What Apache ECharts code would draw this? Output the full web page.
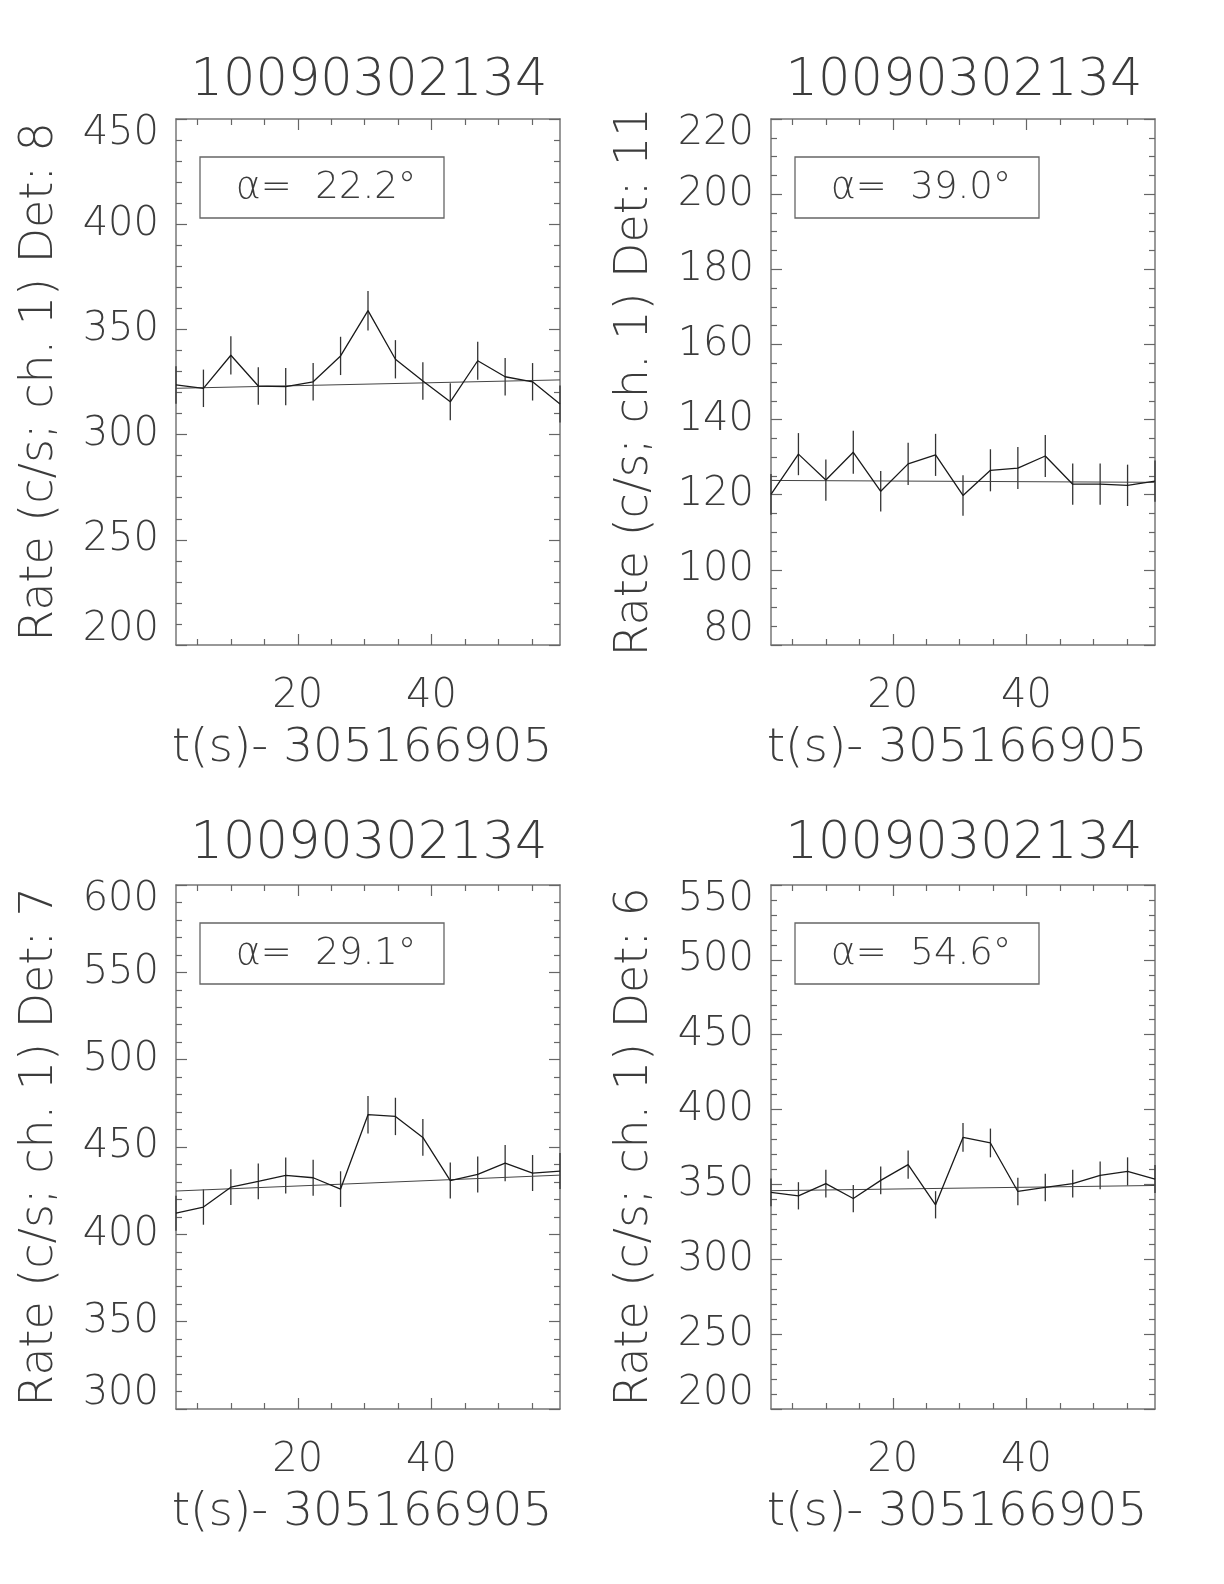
<!DOCTYPE html>
<html>
<head>
<meta charset="utf-8">
<script src="https://cdn.jsdelivr.net/npm/echarts@6/dist/echarts.min.js"></script>
<style>
html,body{margin:0;padding:0;background:#fff;}
#chart{width:1224px;height:1584px;}
</style>
</head>
<body>
<div id="chart"></div>
<script>
// ---- data ----
const obsId = '10090302134';
const timeOffsetLabel = 't(s)- 305166905';
const xTimes = [1.8, 5.9, 10.0, 14.1, 18.2, 22.3, 26.4, 30.5, 34.6, 38.7, 42.8, 46.9, 51.0, 55.1, 59.2];
const xMajorTicks = [20, 40];
const xMinorTicks = [5, 10, 15, 25, 30, 35, 45, 50, 55];

const detectors = ['8', '11', '7', '6'];
const alphaValues = ['22.2', '39.0', '29.1', '54.6'];

const det8Rate = [323.6, 322.0, 337.7, 323.1, 322.8, 325.1, 337.4, 358.9, 335.8, 325.5, 315.6, 335.1, 327.5, 325.1, 314.5];
const det8Err  = [8.9, 8.9, 9.1, 8.9, 8.9, 8.9, 9.1, 9.4, 9.1, 8.9, 8.8, 9.0, 8.9, 8.9, 8.8];
const det8Bkg  = [322.0, 326.0];

const det11Rate = [120.1, 130.8, 123.9, 131.3, 120.9, 128.2, 130.6, 119.8, 126.5, 127.1, 130.3, 122.8, 122.8, 122.5, 123.6];
const det11Err  = [5.4, 5.6, 5.5, 5.7, 5.4, 5.6, 5.6, 5.4, 5.6, 5.6, 5.6, 5.5, 5.5, 5.5, 5.5];
const det11Bkg  = [123.8, 123.3];

const det7Rate = [412.1, 415.6, 427.0, 430.3, 433.7, 432.4, 425.9, 468.5, 467.5, 455.5, 430.8, 434.3, 440.8, 435.1, 436.2];
const det7Err  = [10.0, 10.1, 10.2, 10.2, 10.3, 10.3, 10.2, 10.7, 10.7, 10.5, 10.3, 10.3, 10.4, 10.3, 10.3];
const det7Bkg  = [424.8, 433.9];

const det6Rate = [344.7, 342.4, 350.5, 340.6, 352.7, 363.2, 336.4, 381.4, 377.7, 345.3, 348.0, 350.5, 356.0, 358.7, 353.6];
const det6Err  = [9.2, 9.1, 9.3, 9.1, 9.3, 9.4, 9.1, 9.6, 9.6, 9.2, 9.2, 9.3, 9.3, 9.4, 9.3];
const det6Bkg  = [345.8, 349.3];

const yMins = [200, 80, 300, 200];
const yMaxs = [450, 220, 600, 550];
const yIntervals = [50, 20, 50, 50];
const yMinorSplits = [5, 4, 5, 5];

const rates = [det8Rate, det11Rate, det7Rate, det6Rate];
const errs = [det8Err, det11Err, det7Err, det6Err];
const bkgs = [det8Bkg, det11Bkg, det7Bkg, det6Bkg];

// ---- layout & style ----
const FONT = 'DejaVu Sans';
const FW = 200;
const TXT = '#3c3c3c';
const FRAME = '#777';
const grids = [
  {left: 176, top: 119, width: 384, height: 526},
  {left: 771, top: 119, width: 384, height: 526},
  {left: 176, top: 885, width: 384, height: 524},
  {left: 771, top: 885, width: 384, height: 524}
];
const titleY = [82, 82, 845, 845];

const xMin = xTimes[0], xMax = xTimes[xTimes.length - 1];

const xAxes = [], yAxes = [], series = [], graphics = [];
const lineSt = {color: FRAME, width: 1.5};
const tickSt = {color: '#666', width: 1.2};

grids.forEach((g, i) => {
  const base = {gridIndex: i, type: 'value', min: xMin, max: xMax, splitLine: {show: false}};
  xAxes.push(Object.assign({}, base, {
    position: 'bottom',
    axisLine: {show: true, lineStyle: lineSt},
    axisTick: {show: true, inside: true, length: 11, customValues: xMajorTicks, lineStyle: tickSt},
    axisLabel: {show: true, customValues: xMajorTicks, margin: 32, fontSize: 40, fontFamily: FONT, fontWeight: FW, color: TXT},
    name: timeOffsetLabel, nameLocation: 'middle', nameGap: 80,
    nameTextStyle: {fontSize: 47, fontFamily: FONT, fontWeight: FW, color: TXT, padding: [0, 12, 0, 0]}
  }));
  xAxes.push(Object.assign({}, base, {
    position: 'bottom',
    axisLine: {show: false},
    axisTick: {show: true, inside: true, length: 6, customValues: xMinorTicks, lineStyle: tickSt},
    axisLabel: {show: false}
  }));
  xAxes.push(Object.assign({}, base, {
    position: 'top',
    axisLine: {show: true, lineStyle: lineSt},
    axisTick: {show: true, inside: true, length: 11, customValues: xMajorTicks, lineStyle: tickSt},
    axisLabel: {show: false}
  }));
  xAxes.push(Object.assign({}, base, {
    position: 'top',
    axisLine: {show: false},
    axisTick: {show: true, inside: true, length: 6, customValues: xMinorTicks, lineStyle: tickSt},
    axisLabel: {show: false}
  }));

  const ybase = {gridIndex: i, type: 'value', min: yMins[i], max: yMaxs[i], interval: yIntervals[i],
    splitLine: {show: false}, minorSplitLine: {show: false},
    axisLine: {show: true, lineStyle: lineSt},
    axisTick: {show: true, inside: true, length: 11, lineStyle: tickSt},
    minorTick: {show: true, splitNumber: yMinorSplits[i], length: 6, lineStyle: tickSt}};
  yAxes.push(Object.assign({}, ybase, {
    position: 'left',
    axisLabel: {show: true, margin: 17, fontSize: 40, lineHeight: 30, fontFamily: FONT, fontWeight: FW, color: TXT,
      verticalAlignMaxLabel: 'top', verticalAlignMinLabel: 'bottom'},
    name: 'Rate (c/s; ch. 1) Det: ' + detectors[i], nameLocation: 'middle', nameGap: 113, nameRotate: 90,
    nameTextStyle: {fontSize: 46, fontFamily: FONT, fontWeight: FW, color: TXT}
  }));
  yAxes.push(Object.assign({}, ybase, {position: 'right', axisLabel: {show: false}}));

  const xi = 4 * i, yi = 2 * i;
  series.push({
    type: 'line', xAxisIndex: xi, yAxisIndex: yi, showSymbol: false, animation: false,
    data: xTimes.map((t, k) => [t, rates[i][k]]),
    lineStyle: {color: '#1a1a1a', width: 1.3}, z: 3
  });
  series.push({
    type: 'line', xAxisIndex: xi, yAxisIndex: yi, showSymbol: false, animation: false,
    data: [[xMin, bkgs[i][0]], [xMax, bkgs[i][1]]],
    lineStyle: {color: '#444', width: 1}, z: 2
  });
  series.push({
    type: 'custom', xAxisIndex: xi, yAxisIndex: yi, animation: false, z: 2,
    data: xTimes.map((t, k) => [t, rates[i][k], errs[i][k]]),
    renderItem: function (params, api) {
      const x = api.value(0), y = api.value(1), e = api.value(2);
      const p1 = api.coord([x, y - e]);
      const p2 = api.coord([x, y + e]);
      return {type: 'line', shape: {x1: p1[0], y1: p1[1], x2: p2[0], y2: p2[1]},
        style: {stroke: '#333', lineWidth: 1.3}};
    }
  });

  graphics.push({
    type: 'text', x: g.left + g.width / 2 + 1, y: titleY[i],
    style: {text: obsId, font: FW + ' 51px "' + FONT + '"', fill: TXT, textAlign: 'center', textVerticalAlign: 'middle'}
  });
  const bx = g.left + 24, by = g.top + 38, bw = 244, bh = 61;
  graphics.push({
    type: 'rect', shape: {x: bx, y: by, width: bw, height: bh},
    style: {fill: 'none', stroke: '#666', lineWidth: 1.3}
  });
  graphics.push({
    type: 'text', x: bx + bw / 2 + 4, y: by + bh / 2 + 1,
    style: {
      text: '{a|α}=  ' + alphaValues[i] + '°',
      font: FW + ' 37px "' + FONT + '"', fill: TXT, textAlign: 'center', textVerticalAlign: 'middle',
      rich: {a: {fontFamily: FONT, fontWeight: FW, fontSize: 38, fill: TXT, color: TXT}}
    }
  });
});

const chart = echarts.init(document.getElementById('chart'), null, {renderer: 'canvas'});
chart.setOption({
  backgroundColor: '#fff',
  animation: false,
  grid: grids.map(g => Object.assign({containLabel: false}, g)),
  xAxis: xAxes,
  yAxis: yAxes,
  series: series,
  graphic: graphics
});
</script>
</body>
</html>
